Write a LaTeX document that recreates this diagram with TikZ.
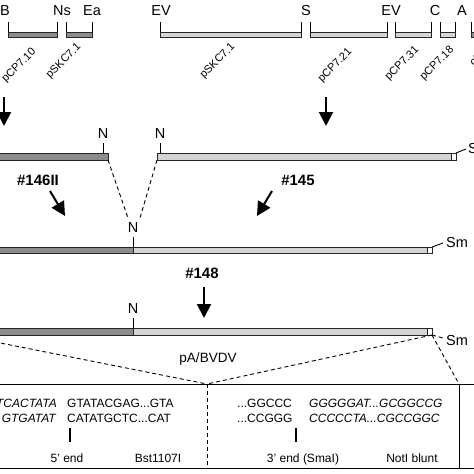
\documentclass[tikz,border=0pt]{standalone}
\usepackage{fontspec}
\setmainfont{Liberation Sans}
\usepackage{tikz}
\usetikzlibrary{positioning,arrows.meta}

\begin{document}
\begin{tikzpicture}[
  x=1pt, y=-1pt,
  site/.style={font=\fontsize{14.5}{16}\selectfont, anchor=base, inner sep=0pt},
  clone/.style={font=\fontsize{11}{12}\selectfont, rotate=45, anchor=east, inner sep=0pt},
  step label/.style={font=\bfseries\fontsize{15}{17}\selectfont, anchor=base, inner sep=0pt},
  seq/.style={font=\fontsize{12}{14}\selectfont, anchor=base west, inner sep=0pt},
  iseq/.style={seq, font=\itshape\fontsize{12}{14}\selectfont},
  darkbar/.style={draw=black!85, line width=0.9pt, fill=black!45},
  lightbar/.style={draw=black!85, line width=0.9pt, fill=black!17},
  endbox/.style={draw=black!85, line width=0.9pt, fill=white},
  tick/.style={line width=0.9pt},
  arrow/.style={-{Triangle[length=14pt,width=14pt]}, line width=2pt},
  link/.style={dash pattern=on 4pt off 3pt, line width=0.9pt}
]
\useasboundingbox (0,0) rectangle (474,474);
\clip (0,0) rectangle (474,474);

% subclones
\foreach \a/\b/\s in {8/57/darkbar, 66/92/darkbar, 160/301/lightbar, 310/387/lightbar,
                      395/431/lightbar, 440/455/lightbar, 471/490/darkbar} {
  \draw[\s] (\a,32) rectangle (\b,37);
  \draw[tick] (\a,22) -- (\a,32) (\b,22) -- (\b,32);
}
\node[site] (sB)  at (5,15)   {B};
\node[site] (sNs) at (62,15)  {Ns};
\node[site] (sEa) at (92,15)  {Ea};
\node[site] (sEV) at (161,15) {EV};
\node[site] (sS)  at (306,15) {S};
\node[site] (sEV2) at (391,15) {EV};
\node[site] (sC)  at (435,15) {C};
\node[site] (sA)  at (462,15) {A};

\node[clone] (c710) at (34.5,50.5)  {pCP7.10};
\node[clone] (c71a) at (79.5,45.5)  {pSKC7.1};
\node[clone] (c71b) at (233.5,45.5) {pSKC7.1};
\node[clone] (c721) at (350.5,50.5) {pCP7.21};
\node[clone] (c731) at (417.5,48.5) {pCP7.31};
\node[clone] (c718) at (452.5,48.5) {pCP7.18};
\node[clone, anchor=west] (col) at (471,64) {ol3'};

\coordinate (a1s) at (4,97);    \coordinate (a1e) at (4,126);
\coordinate (a2s) at (326,97);  \coordinate (a2e) at (326,126);
\draw[arrow] (a1s) -- (a1e);
\draw[arrow] (a2s) -- (a2e);

% first ligation products
\draw[darkbar] (-40,153) rectangle (108,160);
\draw[lightbar] (157,153) rectangle (451,160);
\draw[endbox] (451,153) rectangle (456,160);
\draw[tick] (103,143) -- (103,153) (160,143) -- (160,153);
\node[site] (nL) at (103,138) {N};
\node[site] (nR) at (160,138) {N};
\coordinate (m2e) at (456,153); \coordinate (m2s) at (466,149);
\draw[tick] (m2e) -- (m2s);
\node[site, anchor=base west] (sm2) at (468,153) {Sm};

\node[step label] (s146) at (38,185) {\#146II};
\node[step label] (s145) at (298,185) {\#145};
\coordinate (b1s) at (50,191);  \coordinate (b1e) at (65,216);
\coordinate (b2s) at (272,191); \coordinate (b2e) at (257,216);
\draw[arrow] (b1s) -- (b1e);
\draw[arrow] (b2s) -- (b2e);

\coordinate (jL) at (108,160); \coordinate (jR) at (157,160);
\coordinate (jLe) at (128,218); \coordinate (jRe) at (140,218);
\draw[link] (jL) -- (jLe);
\draw[link] (jR) -- (jRe);

% joined clone
\draw[darkbar] (-40,247) rectangle (133,253);
\draw[lightbar] (133,247) rectangle (427,253);
\draw[endbox] (427,247) rectangle (432,253);
\draw[tick] (133,237) -- (133,247);
\node[site] (n3) at (133,232) {N};
\coordinate (m3e) at (432,247); \coordinate (m3s) at (443,243);
\draw[tick] (m3e) -- (m3s);
\node[site, anchor=base west] (sm3) at (446,247) {Sm};

\node[step label] (s148) at (202,278) {\#148};
\coordinate (c1s) at (204,287); \coordinate (c1e) at (204,318);
\draw[arrow] (c1s) -- (c1e);

% final construct
\draw[darkbar] (-40,328) rectangle (133,335);
\draw[lightbar] (133,328) rectangle (427,335);
\draw[endbox] (427,328) rectangle (432,335);
\draw[tick] (133,318) -- (133,328);
\node[site] (n4) at (133,313) {N};
\coordinate (m4e) at (432,335); \coordinate (m4s) at (443,338);
\draw[link] (m4e) -- (m4s);
\node[site, anchor=base west] (sm4) at (446,345) {Sm};
\node[site, font=\fontsize{13.5}{15}\selectfont] (pa) at (208,362) {pA/BVDV};

% zoom lines
\coordinate (z0) at (-40,335);
\coordinate (zm) at (207,384);
\coordinate (zr) at (459,384);
\draw[link] (z0) -- (zm);
\draw[link] (m4e) -- (zm);
\draw[link] (m4e) -- (zr);

% sequence panels
\draw[line width=0.9pt] (-5,384) -- (480,384) (-5,468) -- (480,468);
\draw[link] (207,384) -- (207,468);
\draw[line width=0.9pt] (459,384) -- (459,468);

\node[iseq, anchor=base east] (l1a) at (57,407) {TCACTATA};
\node[seq] (l1b) at (67,407) {GTATACGAG...GTA};
\node[iseq, anchor=base east] (l2a) at (56,422) {GTGATAT};
\node[seq] (l2b) at (67,422) {CATATGCTC...CAT};
\draw[line width=1.4pt] (70,428) -- (70,442);
\node[seq, anchor=base] (five) at (67,462) {5' end};
\node[seq, anchor=base] (bst) at (158,462) {Bst1107I};

\node[seq] (m1a) at (237,407) {...GGCCC};
\node[iseq] (m1b) at (309,407) {GGGGGAT...GCGGCCG};
\node[seq] (m2a) at (237,422) {...CCGGG};
\node[iseq] (m2b) at (309,422) {CCCCCTA...CGCCGGC};
\draw[line width=1.4pt] (296,428) -- (296,442);
\node[seq, anchor=base] (three) at (303,462) {3' end (SmaI)};
\node[seq, anchor=base] (notb) at (412,462) {NotI blunt};
\end{tikzpicture}
\end{document}
